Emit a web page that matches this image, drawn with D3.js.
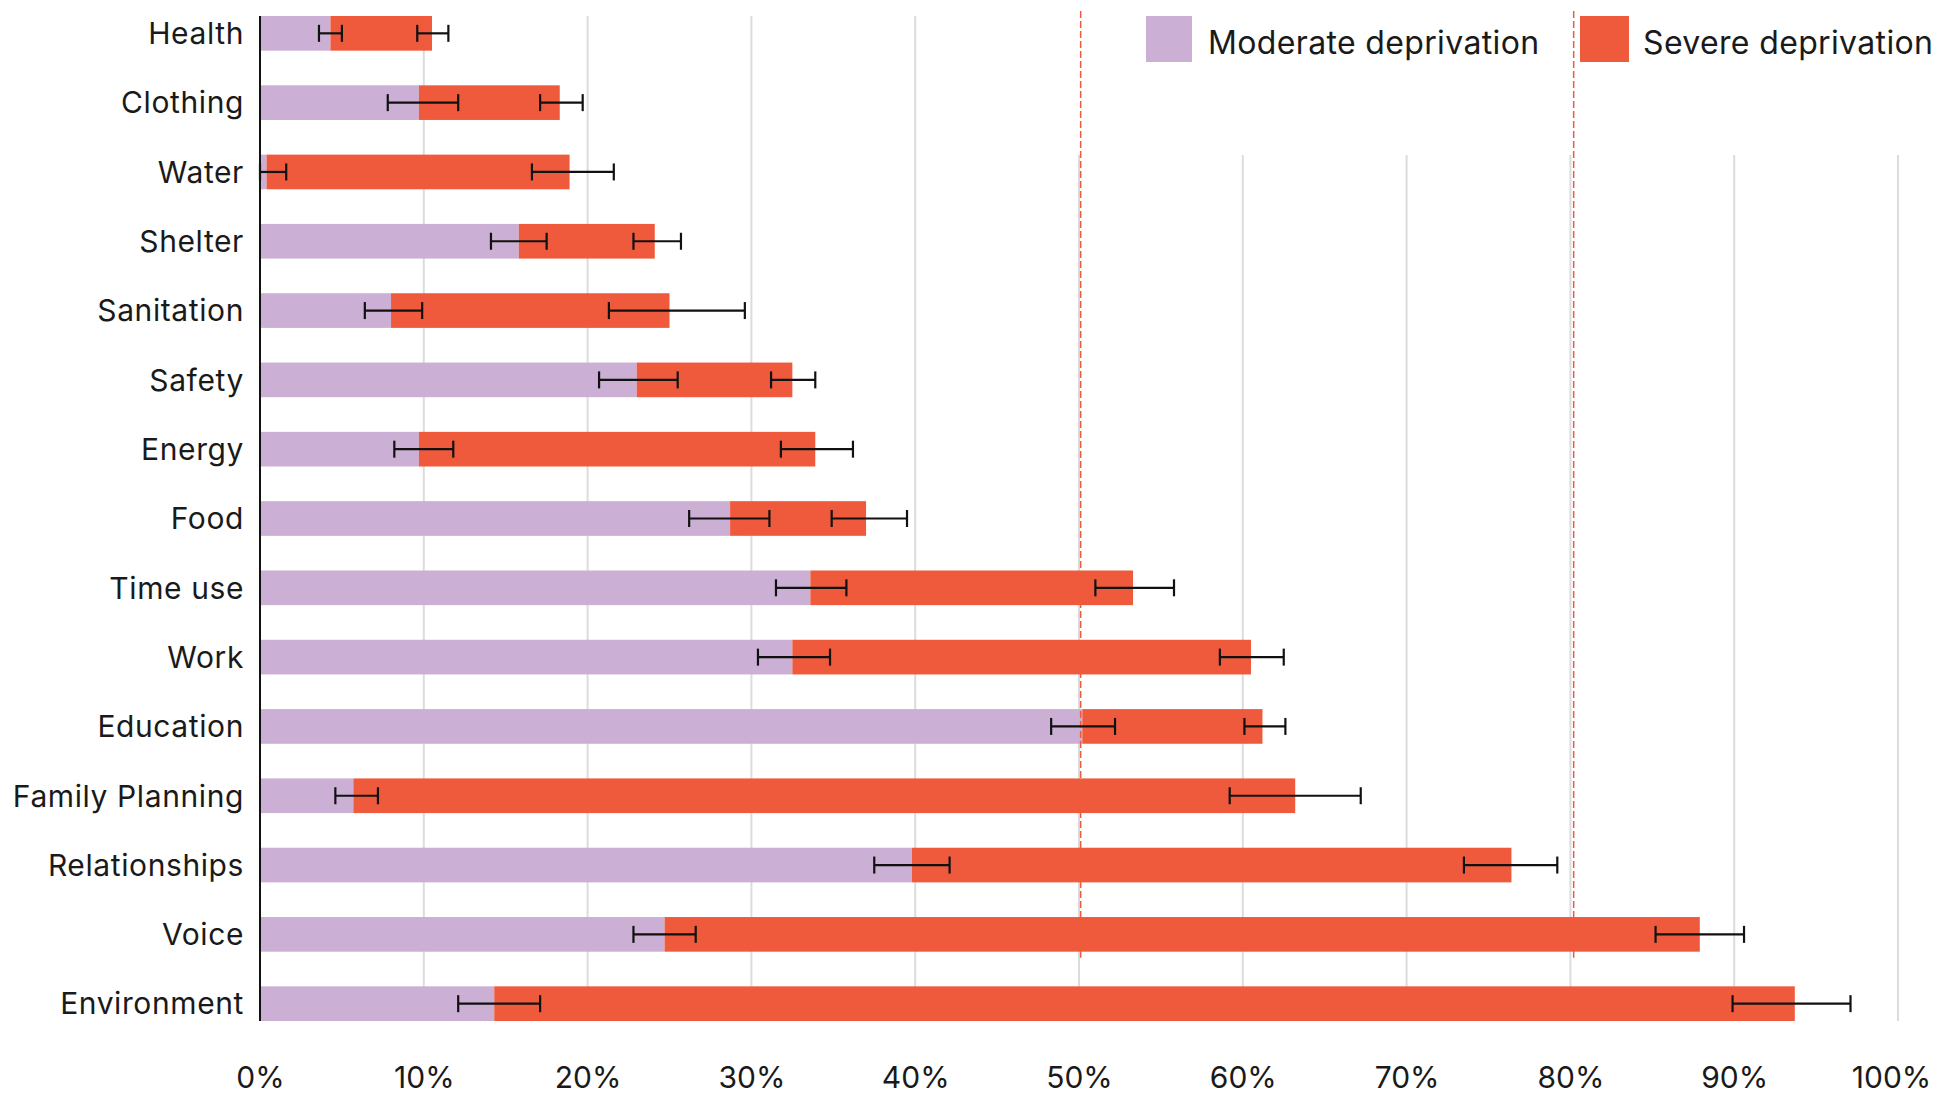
<!DOCTYPE html>
<html>
<head>
<meta charset="utf-8">
<script src="https://cdn.jsdelivr.net/npm/d3@7"></script>
<style>
  body { margin: 0; background: #fff; }
  svg { display: block; font-family: Inter, "Noto Sans", sans-serif; }
</style>
</head>
<body>
<svg id="chart" width="1939" height="1096"></svg>
<script>
// categories top to bottom
const categories = ["Health", "Clothing", "Water", "Shelter", "Sanitation", "Safety", "Energy", "Food",
  "Time use", "Work", "Education", "Family Planning", "Relationships", "Voice", "Environment"];

// bar segment lengths (%)
const moderate = [4.3, 9.7, 0.4, 15.8, 8.0, 23.0, 9.7, 28.7, 33.6, 32.5, 50.2, 5.7, 39.8, 24.7, 14.3];
const severe = [6.2, 8.6, 18.5, 8.3, 17.0, 9.5, 24.2, 8.3, 19.7, 28.0, 11.0, 57.5, 36.6, 63.2, 79.4];

// error bars at the end of the moderate segment
const modLow = [3.6, 7.8, 0.0, 14.1, 6.4, 20.7, 8.2, 26.2, 31.5, 30.4, 48.3, 4.6, 37.5, 22.8, 12.1];
const modHigh = [5.0, 12.1, 1.6, 17.5, 9.9, 25.5, 11.8, 31.1, 35.8, 34.8, 52.2, 7.2, 42.1, 26.6, 17.1];
// error bars at the end of the severe segment
const sevLow = [9.6, 17.1, 16.6, 22.8, 21.3, 31.2, 31.8, 34.9, 51.0, 58.6, 60.1, 59.2, 73.5, 85.2, 89.9];
const sevHigh = [11.5, 19.7, 21.6, 25.7, 29.6, 33.9, 36.2, 39.5, 55.8, 62.5, 62.6, 67.2, 79.2, 90.6, 97.1];

const tickValues = [0, 10, 20, 30, 40, 50, 60, 70, 80, 90, 100];
const thresholds = [50.1, 80.2];
const seriesNames = ["Moderate deprivation", "Severe deprivation"];

const colors = ["#cbafd4", "#f05a3c"];

const svg = d3.select("#chart");

let x = d3.scaleLinear().domain([0, 100]).range([260, 1898]);
let y = d3.scaleBand().domain(categories).range([16, 1021]).paddingInner(0.5).paddingOuter(0);

// gridlines
svg.append("g")
  .selectAll("line")
  .data(tickValues.slice(1))
  .enter()
  .append("line")
  .attr("x1", d => x(d))
  .attr("x2", d => x(d))
  .attr("y1", 16)
  .attr("y2", 1021)
  .style("stroke", "#dcdcdc")
  .style("stroke-width", "2px");

// legend background covers upper part of the gridlines
svg.append("rect")
  .attr("x", 1000).attr("y", 0)
  .attr("width", 939).attr("height", 155)
  .attr("fill", "#fff");

let rows = categories.map((c, i) => ({
  cat: c, mod: moderate[i], sev: severe[i],
  ml: modLow[i], mh: modHigh[i], sl: sevLow[i], sh: sevHigh[i]
}));

// moderate bars
svg.append("g")
  .selectAll("rect")
  .data(rows)
  .enter()
  .append("rect")
  .attr("x", x(0))
  .attr("y", d => y(d.cat))
  .attr("width", d => x(d.mod) - x(0))
  .attr("height", y.bandwidth())
  .attr("fill", colors[0]);

// severe bars
svg.append("g")
  .selectAll("rect")
  .data(rows)
  .enter()
  .append("rect")
  .attr("x", d => x(d.mod))
  .attr("y", d => y(d.cat))
  .attr("width", d => x(d.mod + d.sev) - x(d.mod))
  .attr("height", y.bandwidth())
  .attr("fill", colors[1]);

// threshold dashed lines
svg.append("g")
  .selectAll("line")
  .data(thresholds)
  .enter()
  .append("line")
  .attr("x1", d => x(d))
  .attr("x2", d => x(d))
  .attr("y1", 11)
  .attr("y2", y("Voice") + y.bandwidth() + 6)
  .style("stroke", "#f05a3c")
  .style("stroke-width", "1.5px")
  .style("stroke-dasharray", "7,3");

// error bars
function drawErrors(lo, hi) {
  let g = svg.append("g").style("stroke", "#111").style("stroke-width", "2.2px");
  rows.forEach(d => {
    let cy = y(d.cat) + y.bandwidth() / 2;
    g.append("line").attr("x1", x(d[lo])).attr("x2", x(d[hi])).attr("y1", cy).attr("y2", cy);
    g.append("line").attr("x1", x(d[lo])).attr("x2", x(d[lo])).attr("y1", cy - 8.5).attr("y2", cy + 8.5);
    g.append("line").attr("x1", x(d[hi])).attr("x2", x(d[hi])).attr("y1", cy - 8.5).attr("y2", cy + 8.5);
  });
}
drawErrors("ml", "mh");
drawErrors("sl", "sh");

// y axis line
svg.append("line")
  .attr("x1", x(0)).attr("x2", x(0))
  .attr("y1", 16).attr("y2", 1021)
  .style("stroke", "#111")
  .style("stroke-width", "2px");

// category labels
svg.append("g")
  .selectAll("text")
  .data(categories)
  .enter()
  .append("text")
  .attr("x", 244)
  .attr("y", d => y(d) + y.bandwidth() / 2)
  .attr("dy", "0.36em")
  .attr("text-anchor", "end")
  .style("font-size", "30px")
  .style("letter-spacing", "0.6px")
  .style("fill", "#1a1a1a")
  .text(d => d);

// x axis labels
let xAxis = d3.axisBottom(x)
  .tickValues(tickValues)
  .tickFormat(d => d + "%")
  .tickSize(0);
let gX = svg.append("g").attr("transform", "translate(0,1088)").call(xAxis);
gX.select(".domain").remove();
gX.selectAll("text")
  .attr("y", 0)
  .attr("dy", 0)
  .attr("dx", d => d == 100 ? -7 : 0)
  .style("font-family", "Inter, 'Noto Sans', sans-serif")
  .style("font-size", "30px")
  .style("fill", "#1a1a1a");

// legend
let legendX = [1146, 1580];
let legend = svg.append("g")
  .selectAll("g")
  .data(seriesNames)
  .enter()
  .append("g")
  .attr("transform", (d, i) => `translate(${legendX[i]},16)`);
legend.append("rect")
  .attr("width", (d, i) => i == 0 ? 46 : 49)
  .attr("height", 46)
  .attr("fill", (d, i) => colors[i]);
legend.append("text")
  .attr("x", (d, i) => i == 0 ? 62 : 63)
  .attr("y", 38)
  .style("font-size", "32px")
  .style("letter-spacing", "0.35px")
  .style("fill", "#1a1a1a")
  .text(d => d);
</script>
</body>
</html>
